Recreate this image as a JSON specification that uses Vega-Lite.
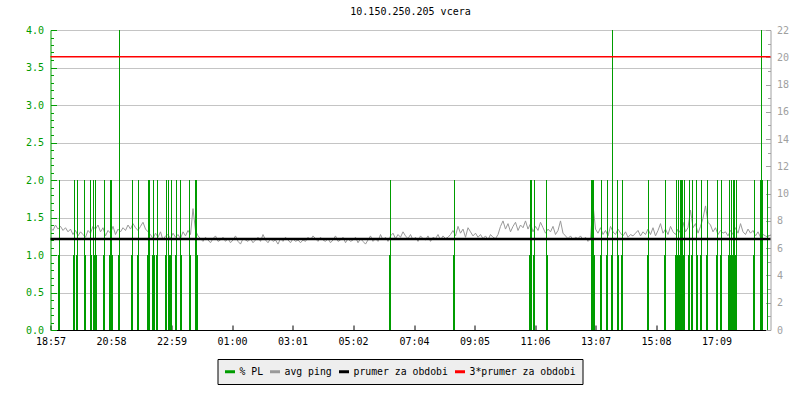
{
 "$schema": "https://vega.github.io/schema/vega-lite/v6.json",
 "width": 720,
 "height": 300,
 "autosize": {"type": "none"},
 "padding": {"left": 50.5, "top": 30, "right": 29.5, "bottom": 70},
 "background": "white",
 "title": {"text": "10.150.250.205 vcera", "font": "DejaVu Sans Mono", "fontSize": 10, "fontWeight": "normal", "color": "#000000", "anchor": "middle", "offset": 8},
 "datasets": {
  "pl": [
   {"a":15,"b":17,"pl":1},{"a":17,"b":19,"pl":2},
   {"a":45,"b":47,"pl":1},{"a":47,"b":49,"pl":2},
   {"a":51,"b":53,"pl":1},{"a":53,"b":55,"pl":2},
   {"a":67,"b":69,"pl":2},{"a":69,"b":71,"pl":1},
   {"a":79,"b":81,"pl":2},{"a":81,"b":83,"pl":1},
   {"a":85,"b":87,"pl":2},{"a":87,"b":89,"pl":1},{"a":89,"b":91,"pl":2},{"a":91,"b":93,"pl":1},
   {"a":105,"b":107,"pl":1},{"a":107,"b":109,"pl":2},
   {"a":117,"b":119,"pl":1},{"a":119,"b":123,"pl":2},{"a":123,"b":125,"pl":1},
   {"a":135,"b":137,"pl":1},{"a":137,"b":139,"pl":4},
   {"a":161,"b":163,"pl":1},{"a":163,"b":165,"pl":2},
   {"a":173,"b":175,"pl":1},{"a":175,"b":177,"pl":2},
   {"a":193,"b":195,"pl":1},{"a":195,"b":199,"pl":2},
   {"a":203,"b":205,"pl":1},{"a":205,"b":207,"pl":2},{"a":207,"b":209,"pl":1},
   {"a":211,"b":213,"pl":1},{"a":213,"b":215,"pl":2},
   {"a":229,"b":231,"pl":1},{"a":231,"b":233,"pl":2},
   {"a":235,"b":237,"pl":2},{"a":237,"b":241,"pl":1},{"a":241,"b":243,"pl":2},
   {"a":249,"b":251,"pl":1},{"a":251,"b":253,"pl":2},
   {"a":259,"b":261,"pl":2},{"a":261,"b":263,"pl":1},
   {"a":277,"b":279,"pl":2},{"a":279,"b":281,"pl":1},
   {"a":289,"b":293,"pl":2},{"a":293,"b":295,"pl":1},
   {"a":677,"b":679,"pl":1},{"a":679,"b":681,"pl":2},
   {"a":805,"b":807,"pl":1},{"a":807,"b":809,"pl":2},
   {"a":957,"b":959,"pl":1},{"a":959,"b":963,"pl":2},{"a":965,"b":967,"pl":1},{"a":967,"b":969,"pl":2},
   {"a":991,"b":993,"pl":2},{"a":993,"b":995,"pl":1},
   {"a":1081,"b":1087,"pl":2},{"a":1087,"b":1089,"pl":1},
   {"a":1099,"b":1101,"pl":1},{"a":1101,"b":1103,"pl":2},
   {"a":1111,"b":1113,"pl":1},{"a":1113,"b":1115,"pl":2},
   {"a":1121,"b":1123,"pl":1},{"a":1123,"b":1125,"pl":4},
   {"a":1133,"b":1135,"pl":2},{"a":1135,"b":1137,"pl":1},
   {"a":1141,"b":1143,"pl":1},{"a":1143,"b":1145,"pl":2},
   {"a":1193,"b":1195,"pl":1},{"a":1195,"b":1197,"pl":2},
   {"a":1227,"b":1229,"pl":1},{"a":1229,"b":1231,"pl":2},
   {"a":1249,"b":1251,"pl":1},{"a":1251,"b":1253,"pl":2},{"a":1253,"b":1255,"pl":1},{"a":1255,"b":1257,"pl":2},{"a":1257,"b":1259,"pl":1},{"a":1259,"b":1261,"pl":2},{"a":1261,"b":1265,"pl":2},{"a":1265,"b":1267,"pl":1},{"a":1267,"b":1269,"pl":2},
   {"a":1275,"b":1277,"pl":1},{"a":1277,"b":1279,"pl":2},
   {"a":1281,"b":1283,"pl":1},{"a":1283,"b":1285,"pl":2},
   {"a":1291,"b":1293,"pl":2},{"a":1293,"b":1295,"pl":1},
   {"a":1299,"b":1301,"pl":1},{"a":1301,"b":1303,"pl":2},
   {"a":1311,"b":1313,"pl":1},{"a":1313,"b":1315,"pl":2},
   {"a":1331,"b":1333,"pl":1},{"a":1333,"b":1335,"pl":2},
   {"a":1339,"b":1341,"pl":1},{"a":1341,"b":1343,"pl":2},
   {"a":1355,"b":1357,"pl":1},{"a":1357,"b":1359,"pl":2},{"a":1359,"b":1361,"pl":1},{"a":1361,"b":1363,"pl":2},{"a":1363,"b":1365,"pl":1},{"a":1365,"b":1367,"pl":2},{"a":1367,"b":1369,"pl":2},{"a":1369,"b":1371,"pl":1},{"a":1371,"b":1373,"pl":2},
   {"a":1405,"b":1407,"pl":1},{"a":1407,"b":1409,"pl":2},
   {"a":1419,"b":1421,"pl":2},{"a":1421,"b":1423,"pl":4},{"a":1423,"b":1425,"pl":2},
   {"a":1433,"b":1435,"pl":2}
  ],
  "ping": [
   {"m":0,"p":7.5},{"m":5,"p":7.3},{"m":10,"p":7.7},{"m":15,"p":7.4},{"m":20,"p":7.6},{"m":25,"p":7.3},{"m":30,"p":7.5},{"m":35,"p":7.2},{"m":40,"p":7.4},{"m":45,"p":7.0},
   {"m":50,"p":7.3},{"m":55,"p":6.9},{"m":60,"p":7.2},{"m":65,"p":7.0},{"m":70,"p":6.8},{"m":75,"p":7.3},{"m":80,"p":7.1},{"m":85,"p":7.6},{"m":90,"p":7.4},{"m":95,"p":7.7},
   {"m":100,"p":7.2},{"m":105,"p":7.5},{"m":110,"p":6.9},{"m":115,"p":7.3},{"m":120,"p":7.1},{"m":125,"p":7.6},{"m":130,"p":7.0},{"m":135,"p":7.4},{"m":140,"p":7.2},{"m":145,"p":7.5},
   {"m":150,"p":7.3},{"m":155,"p":7.7},{"m":160,"p":7.4},{"m":165,"p":7.8},{"m":170,"p":7.5},{"m":175,"p":7.3},{"m":180,"p":7.6},{"m":185,"p":7.9},{"m":190,"p":7.4},{"m":195,"p":7.2},
   {"m":200,"p":7.0},{"m":205,"p":6.7},{"m":210,"p":7.1},{"m":215,"p":6.8},{"m":220,"p":7.2},{"m":225,"p":6.6},{"m":230,"p":6.9},{"m":235,"p":7.0},{"m":240,"p":6.7},{"m":245,"p":7.1},
   {"m":250,"p":6.8},{"m":255,"p":7.0},{"m":260,"p":6.7},{"m":265,"p":7.2},{"m":270,"p":6.9},{"m":275,"p":7.3},{"m":280,"p":7.0},{"m":285,"p":8.9},{"m":290,"p":7.3},{"m":295,"p":6.9},
   {"m":300,"p":6.7},{"m":305,"p":6.5},{"m":310,"p":6.8},{"m":315,"p":6.6},{"m":320,"p":6.4},{"m":325,"p":6.7},{"m":330,"p":6.9},{"m":335,"p":6.5},{"m":340,"p":6.6},{"m":345,"p":6.8},
   {"m":350,"p":6.5},{"m":355,"p":6.7},{"m":360,"p":6.4},{"m":365,"p":6.6},{"m":370,"p":6.9},{"m":375,"p":6.5},{"m":380,"p":6.3},{"m":385,"p":6.7},{"m":390,"p":6.6},{"m":395,"p":6.5},
   {"m":400,"p":6.7},{"m":405,"p":6.4},{"m":410,"p":6.6},{"m":415,"p":6.8},{"m":420,"p":6.5},{"m":425,"p":7.0},{"m":430,"p":6.6},{"m":435,"p":6.4},{"m":440,"p":6.7},{"m":445,"p":6.5},
   {"m":450,"p":6.6},{"m":455,"p":6.3},{"m":460,"p":6.7},{"m":465,"p":6.5},{"m":470,"p":6.8},{"m":475,"p":6.6},{"m":480,"p":6.4},{"m":485,"p":6.7},{"m":490,"p":6.5},{"m":495,"p":6.6},
   {"m":500,"p":6.4},{"m":505,"p":6.6},{"m":510,"p":6.5},{"m":515,"p":6.8},{"m":520,"p":6.6},{"m":525,"p":6.9},{"m":530,"p":6.7},{"m":535,"p":6.5},{"m":540,"p":6.8},{"m":545,"p":6.6},
   {"m":550,"p":6.5},{"m":555,"p":6.7},{"m":560,"p":6.4},{"m":565,"p":6.6},{"m":570,"p":6.9},{"m":575,"p":6.5},{"m":580,"p":6.6},{"m":585,"p":6.8},{"m":590,"p":6.4},{"m":595,"p":6.7},
   {"m":600,"p":6.5},{"m":605,"p":6.6},{"m":610,"p":6.8},{"m":615,"p":6.4},{"m":620,"p":6.7},{"m":625,"p":6.5},{"m":630,"p":6.3},{"m":635,"p":6.6},{"m":640,"p":6.9},{"m":645,"p":6.5},
   {"m":650,"p":6.7},{"m":655,"p":6.5},{"m":660,"p":7.0},{"m":665,"p":6.6},{"m":670,"p":6.8},{"m":675,"p":6.5},{"m":680,"p":6.9},{"m":685,"p":7.1},{"m":690,"p":6.7},{"m":695,"p":7.0},
   {"m":700,"p":6.8},{"m":705,"p":7.2},{"m":710,"p":6.9},{"m":715,"p":6.7},{"m":720,"p":7.0},{"m":725,"p":6.6},{"m":730,"p":6.8},{"m":735,"p":6.5},{"m":740,"p":6.9},{"m":745,"p":6.7},
   {"m":750,"p":6.6},{"m":755,"p":6.9},{"m":760,"p":6.5},{"m":765,"p":6.8},{"m":770,"p":6.7},{"m":775,"p":7.0},{"m":780,"p":6.6},{"m":785,"p":6.9},{"m":790,"p":6.7},{"m":795,"p":6.8},
   {"m":800,"p":7.0},{"m":805,"p":7.3},{"m":810,"p":6.9},{"m":815,"p":7.6},{"m":820,"p":7.1},{"m":825,"p":7.4},{"m":830,"p":6.8},{"m":835,"p":7.5},{"m":840,"p":7.2},{"m":845,"p":6.9},
   {"m":850,"p":7.1},{"m":855,"p":6.8},{"m":860,"p":7.0},{"m":865,"p":6.7},{"m":870,"p":6.9},{"m":875,"p":6.6},{"m":880,"p":7.0},{"m":885,"p":6.8},{"m":890,"p":6.7},{"m":895,"p":7.0},
   {"m":900,"p":7.6},{"m":905,"p":8.0},{"m":910,"p":7.4},{"m":915,"p":7.8},{"m":920,"p":7.2},{"m":925,"p":7.6},{"m":930,"p":7.9},{"m":935,"p":7.3},{"m":940,"p":7.7},{"m":945,"p":7.5},
   {"m":950,"p":8.0},{"m":955,"p":7.4},{"m":960,"p":7.8},{"m":965,"p":7.2},{"m":970,"p":7.6},{"m":975,"p":7.3},{"m":980,"p":7.9},{"m":985,"p":7.5},{"m":990,"p":7.1},{"m":995,"p":7.4},
   {"m":1000,"p":7.2},{"m":1005,"p":7.6},{"m":1010,"p":7.0},{"m":1015,"p":7.3},{"m":1020,"p":8.0},{"m":1025,"p":7.1},{"m":1030,"p":6.9},{"m":1035,"p":6.7},{"m":1040,"p":6.9},{"m":1045,"p":6.6},
   {"m":1050,"p":6.8},{"m":1055,"p":6.7},{"m":1060,"p":6.9},{"m":1065,"p":6.6},{"m":1070,"p":6.8},{"m":1075,"p":6.5},{"m":1080,"p":6.7},{"m":1085,"p":9.2},{"m":1090,"p":7.4},{"m":1095,"p":7.1},
   {"m":1100,"p":7.5},{"m":1105,"p":7.0},{"m":1110,"p":7.3},{"m":1115,"p":6.9},{"m":1120,"p":7.6},{"m":1125,"p":7.2},{"m":1130,"p":7.0},{"m":1135,"p":7.4},{"m":1140,"p":7.1},{"m":1145,"p":6.9},
   {"m":1150,"p":7.2},{"m":1155,"p":6.8},{"m":1160,"p":7.0},{"m":1165,"p":6.9},{"m":1170,"p":7.1},{"m":1175,"p":7.3},{"m":1180,"p":6.9},{"m":1185,"p":7.2},{"m":1190,"p":7.0},{"m":1195,"p":7.4},
   {"m":1200,"p":7.0},{"m":1205,"p":7.5},{"m":1210,"p":6.9},{"m":1215,"p":7.3},{"m":1220,"p":7.8},{"m":1225,"p":7.1},{"m":1230,"p":7.4},{"m":1235,"p":7.0},{"m":1240,"p":7.6},{"m":1245,"p":7.2},
   {"m":1250,"p":7.0},{"m":1255,"p":7.4},{"m":1260,"p":7.1},{"m":1265,"p":7.9},{"m":1270,"p":7.2},{"m":1275,"p":7.5},{"m":1280,"p":8.8},{"m":1285,"p":7.5},{"m":1290,"p":7.8},{"m":1295,"p":7.1},
   {"m":1300,"p":7.6},{"m":1305,"p":8.2},{"m":1310,"p":9.1},{"m":1315,"p":7.9},{"m":1320,"p":7.7},{"m":1325,"p":7.2},{"m":1330,"p":7.5},{"m":1335,"p":7.0},{"m":1340,"p":7.3},{"m":1345,"p":7.1},
   {"m":1350,"p":7.2},{"m":1355,"p":6.9},{"m":1360,"p":7.3},{"m":1365,"p":7.0},{"m":1370,"p":7.5},{"m":1375,"p":7.1},{"m":1380,"p":7.8},{"m":1385,"p":7.2},{"m":1390,"p":7.0},{"m":1395,"p":7.4},
   {"m":1400,"p":7.1},{"m":1405,"p":7.3},{"m":1410,"p":6.9},{"m":1415,"p":7.2},{"m":1420,"p":6.8},{"m":1425,"p":7.0},{"m":1430,"p":6.9},{"m":1435,"p":6.8},{"m":1440,"p":7.0}
  ]
 },
 "layer": [
  {
   "data": {"name": "ping"},
   "mark": {"type": "line", "strokeWidth": 1, "interpolate": "linear"},
   "encoding": {
    "x": {"field": "m", "type": "quantitative",
     "scale": {"domain": [0, 1440], "nice": false, "zero": false},
     "axis": {"values": [0,121,242,363,484,605,727,848,969,1090,1211,1332],
      "labelExpr": "timeFormat(datetime(2000,0,1,18,57+datum.value,0),'%H:%M')",
      "title": null, "grid": false, "domainColor": "#000000", "tickColor": "#000000",
      "tickSize": -5, "labelPadding": 11, "labelColor": "#000000",
      "labelFont": "DejaVu Sans Mono", "labelFontSize": 10, "labelFlush": false, "labelOverlap": false}},
    "y": {"field": "p", "type": "quantitative",
     "scale": {"domain": [0, 22], "nice": false, "zero": true},
     "axis": {"orient": "right", "values": [0,2,4,6,8,10,12,14,16,18,20,22], "format": "d", "title": null,
      "grid": false, "tickSize": -5, "labelPadding": 11, "domainColor": "#a0a0a0", "tickColor": "#a0a0a0",
      "labelColor": "#a0a0a0", "labelFont": "DejaVu Sans Mono", "labelFontSize": 10}},
    "color": {"datum": "avg ping", "type": "nominal",
     "scale": {"domain": ["% PL", "avg ping", "prumer za obdobi", "3*prumer za obdobi"],
               "range": ["#009c00", "#999999", "#000000", "#ff0000"]},
     "legend": {"orient": "none", "legendX": 167, "legendY": 329, "direction": "horizontal", "title": null,
      "symbolType": "stroke", "symbolSize": 100, "symbolStrokeWidth": 3,
      "labelFont": "DejaVu Sans Mono", "labelFontSize": 9.8, "labelColor": "#000000",
      "labelOffset": 3, "columnPadding": 0, "padding": 6,
      "fillColor": "#eeeeee", "strokeColor": "#000000", "cornerRadius": 0}}
   }
  },
  {
   "data": {"name": "pl"},
   "mark": {"type": "rect", "color": "#009c00"},
   "encoding": {
    "x": {"field": "a", "type": "quantitative", "axis": {"title": null}},
    "x2": {"field": "b"},
    "y": {"field": "pl", "type": "quantitative",
     "scale": {"domain": [0, 4], "nice": false},
     "axis": {"orient": "left", "values": [0,0.5,1,1.5,2,2.5,3,3.5,4], "format": ".1f", "title": null,
      "grid": true, "gridColor": "#c4c4c4", "tickSize": -6, "labelPadding": 13,
      "domainColor": "#009c00", "tickColor": "#009c00", "labelColor": "#009c00",
      "labelFont": "DejaVu Sans Mono", "labelFontSize": 10}},
    "y2": {"datum": 0}
   }
  },
  {
   "data": {"name": "pl"},
   "mark": {"type": "rect", "opacity": 0},
   "encoding": {
    "x": {"field": "a", "type": "quantitative", "axis": {"title": null}},
    "x2": {"field": "b"},
    "y": {"field": "pl", "type": "quantitative",
     "scale": {"domain": [0, 4], "nice": false},
     "axis": {"orient": "left", "values": [0.1,0.2,0.3,0.4,0.6,0.7,0.8,0.9,1.1,1.2,1.3,1.4,1.6,1.7,1.8,1.9,2.1,2.2,2.3,2.4,2.6,2.7,2.8,2.9,3.1,3.2,3.3,3.4,3.6,3.7,3.8,3.9],
      "title": null, "labels": false, "grid": false, "domain": false, "tickSize": -3, "tickColor": "#009c00"}},
    "y2": {"datum": 0}
   }
  },
  {
   "data": {"values": [{"k": "prumer za obdobi", "v": 6.68}]},
   "mark": {"type": "rule", "color": "#000000", "strokeWidth": 2.5},
   "encoding": {"y": {"field": "v", "type": "quantitative", "scale": {"domain": [0, 22], "nice": false},
    "axis": {"orient": "right", "values": [1,3,5,7,9,11,13,15,17,19,21], "title": null, "labels": false, "grid": false, "domain": false, "tickSize": -3, "tickColor": "#a0a0a0"}}}
  },
  {
   "data": {"values": [{"k": "3*prumer za obdobi", "v": 20.04}]},
   "mark": {"type": "rule", "color": "#ff0000", "strokeWidth": 1.5},
   "encoding": {"y": {"field": "v", "type": "quantitative", "scale": {"domain": [0, 22], "nice": false}, "axis": null}}
  }
 ],
 "resolve": {"scale": {"y": "independent"}},
 "config": {"view": {"stroke": null}}
}
